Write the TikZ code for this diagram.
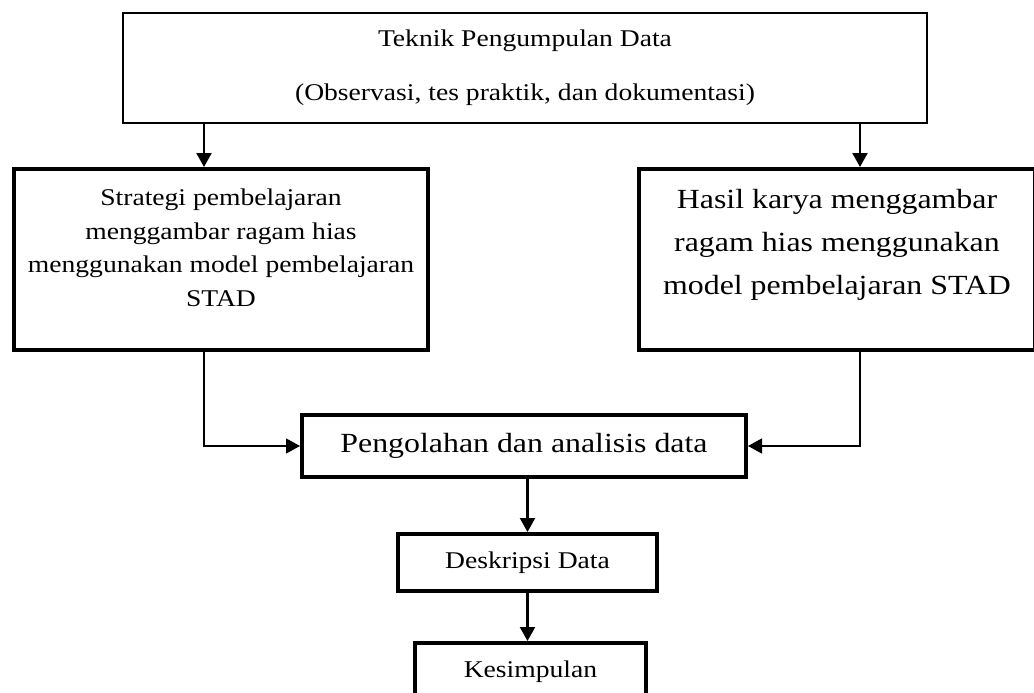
\documentclass[tikz,border=0pt]{standalone}
\usepackage{fontspec}
\setmainfont[FakeStretch=1.15]{Liberation Serif}
\usetikzlibrary{arrows.meta, positioning, calc}
\tikzstyle{arrow} = [line width=2.2pt, -{Triangle[length=14pt, width=15pt]}]

\begin{document}
\begin{tikzpicture}[
	x=1pt, y=-1pt,
	thinbox/.style={draw, rectangle, line width=2pt, inner sep=0pt},
	thickbox/.style={draw, rectangle, line width=4pt, inner sep=0pt},
	smalltext/.style={font=\fontsize{24}{33.7}\selectfont, align=center, inner sep=0pt},
	bigtext/.style={font=\fontsize{27.7}{43}\selectfont, align=center, inner sep=0pt},
	link/.style={line width=1.5pt, -{Triangle[length=14pt, width=15pt]}}
]
\useasboundingbox (0,0) rectangle (1034,693);
\clip (0,0) rectangle (1034,693);

\node[thinbox, minimum width=804pt, minimum height=110pt, align=center, font=\fontsize{24}{54}\selectfont] (teknik) at (525,68) {Teknik Pengumpulan Data\\(Observasi, tes praktik, dan dokumentasi)};
\node[thickbox, minimum width=414pt, minimum height=181pt] (strat) at (221,259.5) {};
\node[thickbox, minimum width=396pt, minimum height=181pt] (hasil) at (837,259.5) {};
\node[thickbox, minimum width=444pt, minimum height=62pt, font=\fontsize{27.7}{43}\selectfont] (olah) at (524,446) {Pengolahan dan analisis data};
\node[thickbox, minimum width=259pt, minimum height=57pt, font=\fontsize{24}{33.7}\selectfont] (desk) at (527.5,562.5) {Deskripsi Data};
\node[thickbox, minimum width=231pt, minimum height=57pt, font=\fontsize{24}{33.7}\selectfont] (kesim) at (530.5,671.5) {Kesimpulan};

\node[smalltext, anchor=north] (stratT) at ([yshift=-21.6pt]strat.north) {Strategi pembelajaran\\menggambar ragam hias\\menggunakan model pembelajaran\\STAD};
\node[bigtext, anchor=north] (hasilT) at ([yshift=-22pt]hasil.north) {Hasil karya menggambar\\ragam hias menggunakan\\model pembelajaran STAD};

\coordinate (lft) at (204,0);
\coordinate (rgt) at (860,0);

\draw[arrow] (teknik.south -| lft) -- (strat.north -| lft);
\draw[arrow] (teknik.south -| rgt) -- (hasil.north -| rgt);
\draw[link] (strat.south -| lft) |- (olah.west);
\draw[link] (hasil.south -| rgt) |- (olah.east);
\draw[arrow] (olah.south -| desk.north) -- (desk.north);
\draw[arrow] (desk.south) -- (desk.south |- kesim.north);

\end{tikzpicture}
\end{document}
